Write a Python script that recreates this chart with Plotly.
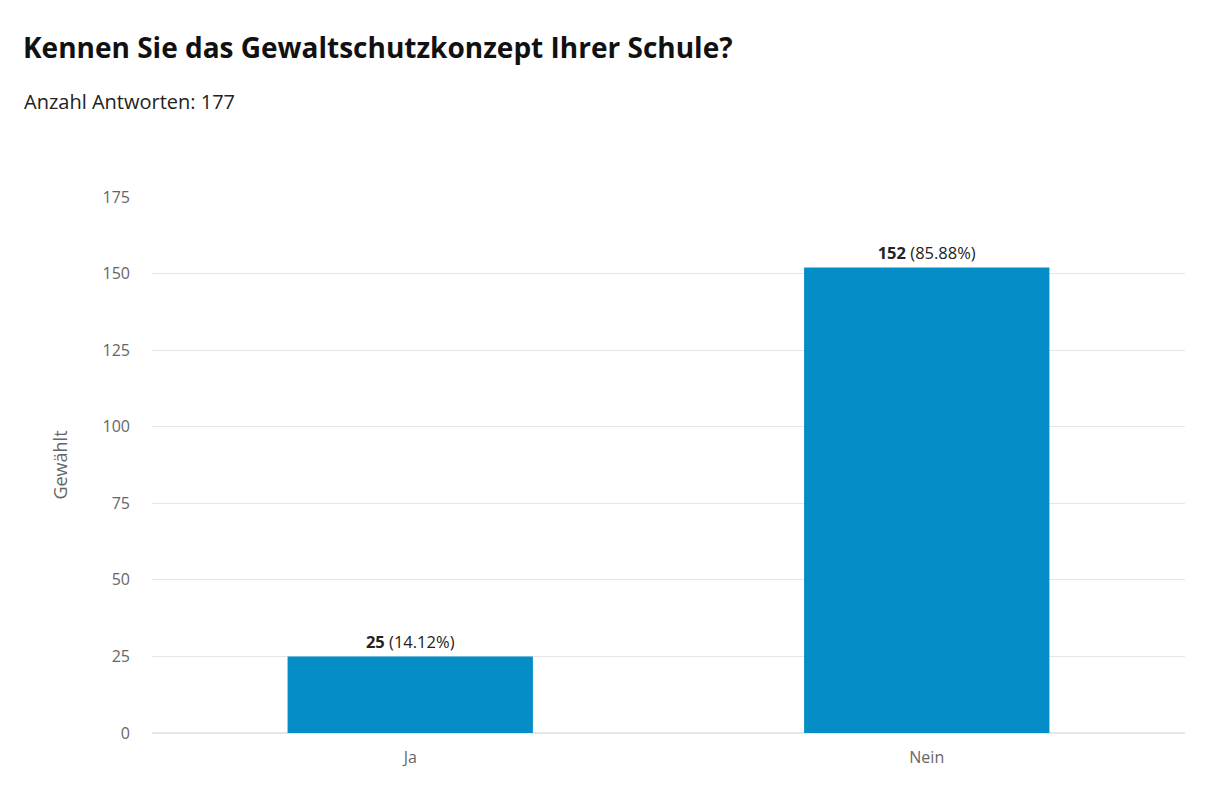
import plotly.graph_objects as go

categories = ["Ja", "Nein"]
counts = [25, 152]
percent_labels = ["14.12%", "85.88%"]
total_answers = 177

title = "Kennen Sie das Gewaltschutzkonzept Ihrer Schule?"
subtitle = f"Anzahl Antworten: {total_answers}"

bar_text = [f"<b>{c}</b> ({p})" for c, p in zip(counts, percent_labels)]

# page body has an 8px margin, so the figure is a bit smaller than the window
W, H = 1204, 804
ML, MR, MT, MB = 144, 27, 189, 79

fig = go.Figure(
    go.Bar(
        x=categories,
        y=counts,
        marker=dict(color="#058DC7", line=dict(width=0)),
        text=bar_text,
        textposition="outside",
        cliponaxis=False,
        textfont=dict(family="Open Sans", size=16.5, color="#222222"),
        hoverinfo="x+y",
    )
)

fig.update_layout(
    width=W,
    height=H,
    margin=dict(l=ML, r=MR, t=MT, b=MB),
    paper_bgcolor="white",
    plot_bgcolor="white",
    font=dict(family="Open Sans", color="#666666", size=16),
    bargap=0.525,
    showlegend=False,
    title=dict(
        text=title,
        xref="container", yref="container",
        x=15 / W, xanchor="left",
        y=1 - 40 / H, yanchor="middle",
        font=dict(family="Open Sans", size=28, color="#111111", weight="bold"),
    ),
    annotations=[
        dict(
            text=subtitle, xref="paper", yref="paper",
            x=(14 - ML) / (W - ML - MR),
            y=(H - MB - 94) / (H - MB - MT),
            xanchor="left", yanchor="middle",
            showarrow=False,
            font=dict(family="Open Sans", size=20, color="#222222"),
        )
    ],
)

fig.update_yaxes(
    range=[0, 175],
    dtick=25,
    showgrid=True,
    gridcolor="#e6e6e6",
    zeroline=True,
    zerolinecolor="#e6e6e6",
    ticks="",
    ticklabelstandoff=21,
    title=dict(text="Gewählt", standoff=30, font=dict(size=18, color="#666666")),
)
fig.update_xaxes(showgrid=False, showline=False, ticks="", ticklabelstandoff=13)

fig.write_html("out.html")
